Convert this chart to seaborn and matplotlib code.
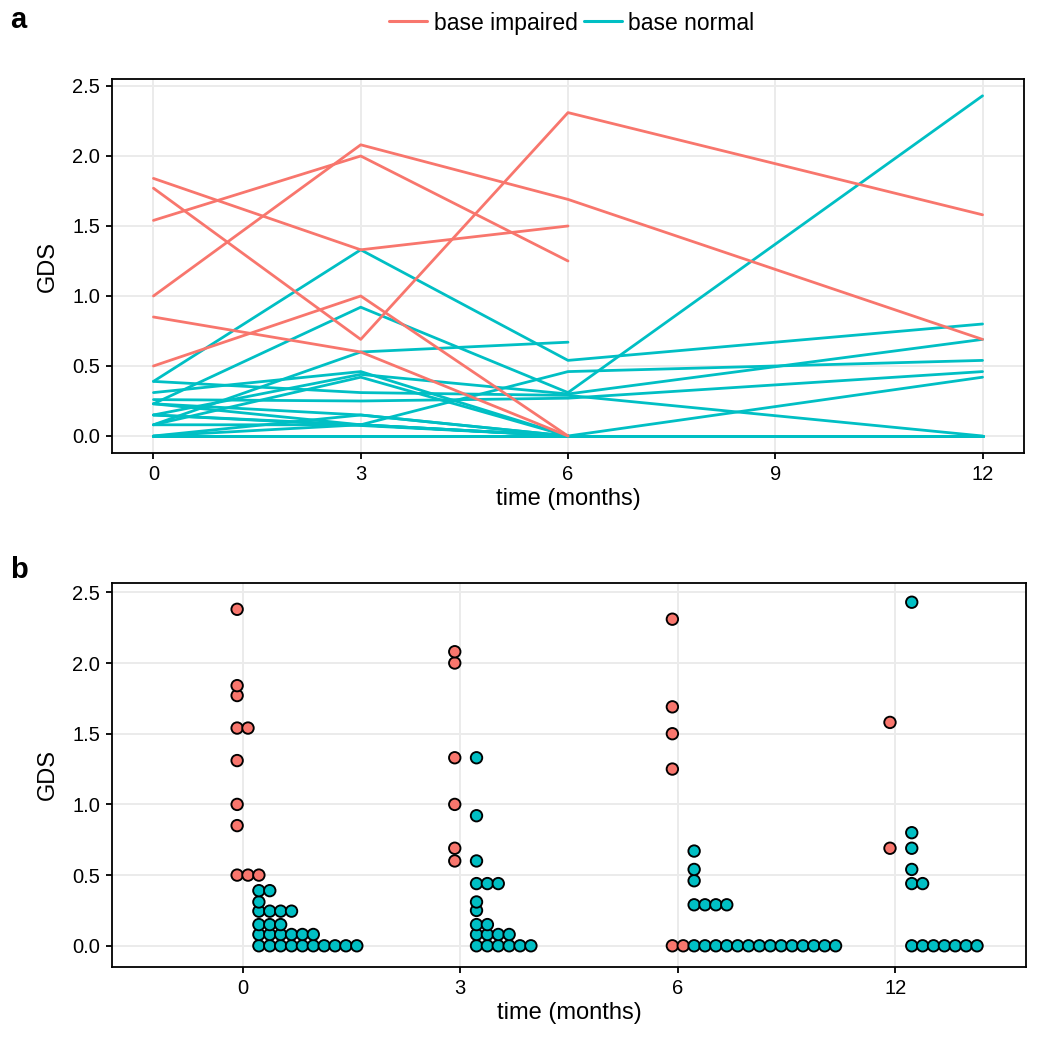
import numpy as np
import pandas as pd
import matplotlib
matplotlib.use("Agg")
import matplotlib.pyplot as plt
import seaborn as sns

# visit months and the category labels used in panel b
months = [0, 3, 6, 12]
month_labels = ["0", "3", "6", "12"]
groups = ["base impaired", "base normal"]
palette = {"base impaired": "#F8766D", "base normal": "#00BFC4"}

nan = np.nan
# one entry per subject; GDS at 0, 3, 6 and 12 months (nan = not seen)
subject_group = ["base impaired"] * 11 + ["base normal"] * 26
gds_m0 = [1.84, 1.77, 1.54, 1.00, 0.85, 0.50, 2.38, 1.54, 1.31, 0.50, 0.50,
          0.39, 0.23, 0.08, 0.39, 0.31, 0.15, 0.08, 0.26, 0.23, 0.00, 0.15,
          0.23, 0.00, 0.08, 0.00, 0.00, 0.00, 0.00, 0.00, 0.00, 0.15, 0.08,
          0.08, 0.08, 0.00, 0.00]
gds_m3 = [1.33, 0.69, 2.00, 2.08, 0.60, 1.00, nan, nan, nan, nan, nan,
          1.33, 0.92, 0.60, 0.31, 0.46, 0.44, 0.42, 0.25, 0.15, 0.15, 0.08,
          0.08, 0.08, 0.08, 0.00, 0.00, 0.00, 0.00, 0.00, 0.00, nan, nan,
          nan, nan, nan, nan]
gds_m6 = [1.50, 2.31, 1.25, 1.69, 0.00, 0.00, nan, nan, nan, nan, nan,
          0.54, 0.31, 0.67, 0.29, 0.00, 0.30, 0.00, 0.27, 0.00, 0.00, 0.46,
          0.00, 0.00, 0.00, 0.00, 0.00, 0.00, 0.00, 0.00, 0.00, 0.00, nan,
          nan, nan, nan, nan]
gds_m12 = [nan, 1.58, nan, 0.69, nan, nan, nan, nan, nan, nan, nan,
           0.80, 2.43, nan, 0.00, nan, 0.69, nan, 0.46, nan, nan, 0.54,
           nan, 0.42, nan, 0.00, 0.00, 0.00, 0.00, 0.00, 0.00, nan, nan,
           nan, nan, nan, nan]

wide = pd.DataFrame({"subject": range(len(subject_group)), "group": subject_group,
                     0: gds_m0, 3: gds_m3, 6: gds_m6, 12: gds_m12})
df = wide.melt(id_vars=["subject", "group"], var_name="time", value_name="gds").dropna()
df["time"] = df["time"].astype(int)


def dot_density(values, binwidth):
    # same idea as ggplot's dotdensity binning: returns (centre, count) per bin
    bins = []
    end = -np.inf
    for v in sorted(values):
        if v >= end:
            bins.append([v])
            end = v + binwidth
        else:
            bins[-1].append(v)
    return [((min(b) + max(b)) / 2, len(b)) for b in bins]


step = 0.05
rows = []
for i, m in enumerate(months):
    for g, side in zip(groups, [-1, 1]):
        vals = df[(df["time"] == m) & (df["group"] == g)]["gds"]
        for centre, n in dot_density(vals, 0.055):
            for k in range(n):
                rows.append({"x": i + side * step + (k + 0.5) * step, "gds": centre, "group": g})
dots = pd.DataFrame(rows)

sns.set_theme(style="white")
plt.rcParams["font.family"] = ["Liberation Sans", "DejaVu Sans"]
plt.rcParams["text.color"] = "black"
plt.rcParams["axes.labelcolor"] = "black"

fig = plt.figure(figsize=(10.38, 10.5), dpi=100)
ax_a = fig.add_axes([112 / 1038, 1 - 453 / 1050, 912 / 1038, 374 / 1050])
ax_b = fig.add_axes([112 / 1038, 1 - 967 / 1050, 914 / 1038, 384 / 1050])

sns.lineplot(data=df, x="time", y="gds", hue="group", hue_order=groups[::-1],
             units="subject", estimator=None, palette=palette, linewidth=2.0,
             ax=ax_a, legend=True)

sns.scatterplot(data=dots, x="x", y="gds", hue="group", hue_order=groups,
                palette=palette, s=68, edgecolor="black", linewidth=1.35,
                ax=ax_b, legend=False, zorder=3)

for ax in (ax_a, ax_b):
    ax.grid(True, color="#EBEBEB", linewidth=1.4)
    ax.set_axisbelow(True)
    for sp in ax.spines.values():
        sp.set_color("black")
        sp.set_linewidth(1.3)
    ax.tick_params(direction="out", length=4.5, width=1.3, color="black",
                   labelsize=14.5, labelcolor="black", bottom=True, left=True, pad=4)
    ax.set_yticks([0, 0.5, 1.0, 1.5, 2.0, 2.5])
    ax.set_yticklabels(["0.0", "0.5", "1.0", "1.5", "2.0", "2.5"])
    ax.set_ylabel("GDS", fontsize=17, labelpad=10)
    ax.set_xlabel("time (months)", fontsize=17, labelpad=3)

ax_a.set_xlim(-0.6, 12.6)
ax_a.set_ylim(-0.1215, 2.55)
ax_a.set_xticks([0, 3, 6, 9, 12])
ax_a.set_xticklabels(["0", "3", "6", "9", "12"])

ax_b.set_xlim(-0.6, 3.6)
ax_b.set_ylim(-0.15, 2.566)
ax_b.set_xticks(range(len(months)))
ax_b.set_xticklabels(month_labels)

# legend above panel a, order as in the original
handles, labels = ax_a.get_legend_handles_labels()
order = [labels.index(g) for g in groups]
ax_a.get_legend().remove()
leg = fig.legend([handles[j] for j in order], [labels[j] for j in order],
                 loc="center", bbox_to_anchor=(572 / 1038, 1 - 23 / 1050), ncol=2,
                 frameon=False, fontsize=16.5, handlelength=1.65, handletextpad=0.3,
                 columnspacing=0.25)
for line in leg.get_lines():
    line.set_linewidth(2.2)

fig.text(10 / 1038, 1 - 20 / 1050, "a", fontsize=21, fontweight="bold", va="center")
fig.text(10 / 1038, 1 - 570 / 1050, "b", fontsize=21, fontweight="bold", va="center")

fig.savefig("out.png", dpi=100)
